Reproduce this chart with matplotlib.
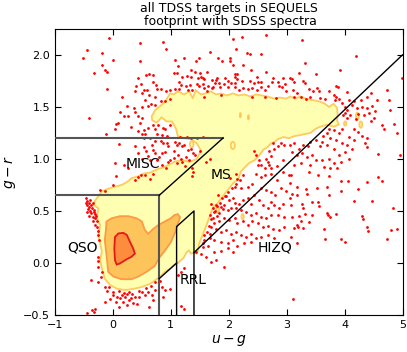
import numpy as np
import matplotlib
matplotlib.use('Agg')
import matplotlib.pyplot as plt
from matplotlib.patches import Polygon, Ellipse

# ── scatter points (u-g, g-r) ─────────────────
pts_upper_left = [
    (-0.06, 2.16), (-0.44, 2.05), (-0.19, 2.02), (-0.52, 1.97), (0.01, 1.95), (0.47, 1.94),
    (0.87, 2.12), (0.46, 2.11), (0.91, 2.06), (-0.18, 1.90), (-0.32, 1.83), (-0.13, 1.85),
    (-0.11, 1.84), (-0.10, 1.67), (0.15, 1.60), (-0.41, 1.39), (-0.12, 1.24), (0.24, 1.51),
    (0.36, 1.49), (0.05, 1.34), (0.09, 1.35), (0.04, 1.29), (0.19, 1.41), (0.26, 1.41),
    (0.13, 1.45), (0.32, 1.31), (0.38, 1.45), (0.50, 1.50), (0.43, 1.78), (0.40, 1.70),
    (0.39, 1.65), (0.49, 1.72), (0.53, 1.66), (0.59, 1.66), (0.57, 1.81), (0.62, 1.82),
    (0.69, 1.81), (0.70, 1.74), (0.51, 1.63), (0.55, 1.57), (0.63, 1.61), (0.66, 1.53),
    (0.61, 1.51), (0.73, 1.60), (0.75, 1.71), (0.77, 1.67), (0.83, 1.67), (0.91, 1.65),
    (0.73, 1.52), (0.83, 1.56), (0.90, 1.56), (0.99, 1.66), (0.99, 1.58), (0.44, 1.41),
    (0.47, 1.35), (0.51, 1.39), (0.43, 1.27), (0.53, 1.28), (0.50, 1.24), (0.56, 1.24),
    (0.61, 1.30), (0.70, 1.33), (0.73, 1.29), (0.78, 1.33), (0.87, 1.30), (0.90, 1.29),
    (0.99, 1.33), (0.76, 1.24), (0.84, 1.23), (0.93, 1.22), (0.54, 1.20), (0.64, 1.20),
    (0.73, 1.17), (0.83, 1.17), (0.87, 1.15), (0.93, 1.15), (0.10, 1.14), (0.38, 1.12),
    (0.04, 0.96), (0.53, 1.11), (0.58, 1.08), (0.44, 1.06), (0.50, 1.00), (0.70, 1.09),
    (0.61, 1.03), (0.64, 0.99), (0.76, 0.99), (0.80, 1.02), (0.84, 1.06), (0.90, 1.07),
    (0.95, 1.12), (0.73, 1.06), (0.67, 1.13), (0.20, 0.94), (0.26, 0.91), (0.84, 0.94),
    (0.92, 0.91), (0.96, 0.97), (0.99, 0.99),
]

pts_upper_mid = [
    (2.07, 2.15), (2.23, 2.17), (2.64, 2.19), (2.12, 2.06), (1.68, 2.03), (2.32, 2.02),
    (2.36, 2.01), (2.56, 2.01), (2.02, 1.97), (2.03, 1.94), (1.81, 1.97), (1.89, 1.94),
    (1.44, 1.94), (1.48, 1.97), (1.23, 1.97), (1.07, 1.95), (1.13, 1.89), (2.07, 1.90),
    (2.24, 1.90), (1.05, 1.83), (1.10, 1.83), (1.35, 1.85), (1.42, 1.84), (1.50, 1.83),
    (1.62, 1.84), (1.52, 1.79), (1.56, 1.78), (1.57, 1.77), (1.47, 1.78), (1.34, 1.79),
    (1.28, 1.80), (1.20, 1.79), (1.14, 1.74), (1.18, 1.71), (1.79, 1.78), (1.78, 1.76),
    (1.71, 1.76), (1.93, 1.78), (2.10, 1.82), (2.15, 1.82), (2.11, 1.79), (2.15, 1.77),
    (2.39, 1.85), (2.49, 1.79), (2.64, 1.84), (2.51, 1.74), (2.56, 1.74), (2.43, 1.73),
    (2.36, 1.75), (2.23, 1.75), (2.11, 1.73), (2.04, 1.73), (1.99, 1.75), (1.92, 1.72),
    (1.84, 1.73), (1.76, 1.73), (1.73, 1.69), (1.64, 1.70), (1.56, 1.72), (1.49, 1.70),
    (1.45, 1.72), (1.33, 1.71), (1.27, 1.70), (1.15, 1.67), (1.07, 1.67), (1.30, 1.66),
    (1.37, 1.66), (1.57, 1.68), (1.63, 1.65), (1.71, 1.68), (1.85, 1.69), (1.98, 1.69),
    (2.11, 1.69), (2.18, 1.66), (2.25, 1.68), (2.33, 1.67), (2.41, 1.68), (2.49, 1.66),
    (2.55, 1.69), (2.62, 1.66), (2.67, 1.70), (2.75, 1.74), (2.76, 1.78), (2.85, 1.74),
    (2.87, 1.70), (2.92, 1.69), (2.97, 1.72), (2.94, 1.78), (2.99, 1.65), (1.57, 1.60),
    (1.87, 1.61), (2.41, 1.60), (2.62, 1.60), (2.82, 1.59),
    (1.08, 1.165), (1.11, 1.13), (1.15, 1.15), (1.19, 1.12), (1.23, 1.13), (1.29, 1.09),
    (1.35, 1.10), (1.38, 1.06), (1.05, 1.08), (1.06, 1.01), (1.12, 1.04), (1.18, 1.00),
    (1.26, 1.02), (1.32, 0.99), (1.41, 1.04), (1.51, 1.08), (1.35, 1.20), (1.46, 1.20),
    (1.55, 1.21), (1.16, 1.21), (1.28, 1.21), (1.24, 0.93), (1.37, 0.91), (1.61, 0.97),
    (1.67, 1.00), (1.20, 0.97), (1.11, 0.96),
    (2.44, 1.08), (2.47, 1.04), (2.53, 0.99), (2.56, 0.94), (2.64, 1.00), (2.67, 0.97),
    (2.70, 0.94), (2.73, 1.03), (2.76, 1.15), (2.79, 1.10), (2.85, 1.12), (2.90, 1.15),
    (2.96, 1.13), (2.70, 1.08), (2.50, 0.94), (2.62, 0.91), (2.73, 0.91), (2.83, 0.93),
    (2.93, 0.99),
]

pts_upper_right = [
    (3.27, 2.14), (4.20, 1.99), (3.31, 1.92), (3.51, 1.82), (3.92, 1.85), (3.21, 1.83),
    (3.05, 1.78), (3.09, 1.77), (3.12, 1.74), (3.29, 1.75), (3.31, 1.73), (3.86, 1.70),
    (3.89, 1.69), (3.39, 1.67), (3.45, 1.65), (3.52, 1.68), (3.55, 1.65), (3.11, 1.66),
    (3.18, 1.63), (3.13, 1.60), (3.24, 1.60), (3.33, 1.58), (3.41, 1.60), (3.58, 1.59),
    (3.66, 1.58), (3.73, 1.65), (3.81, 1.61), (3.85, 1.60), (3.83, 1.57), (3.90, 1.58),
    (4.04, 1.64), (3.96, 1.54), (4.07, 1.57), (4.16, 1.56), (4.28, 1.57), (4.38, 1.60),
    (4.45, 1.63), (4.56, 1.57), (4.73, 1.66), (4.76, 1.57), (4.99, 1.78), (4.00, 1.50),
    (4.04, 1.47), (4.13, 1.52), (4.22, 1.49), (4.30, 1.50), (4.39, 1.49), (4.47, 1.51),
    (4.53, 1.46), (4.42, 1.44), (4.33, 1.42), (4.24, 1.43), (4.10, 1.42), (4.01, 1.44),
    (3.97, 1.42), (4.05, 1.39), (4.19, 1.38), (4.45, 1.36), (4.51, 1.39), (4.64, 1.33),
    (4.68, 1.29), (4.79, 1.47), (4.85, 1.34), (4.91, 1.25), (4.96, 1.04), (4.57, 1.05),
    (4.16, 1.29), (4.24, 1.26), (4.30, 1.22), (4.39, 1.20), (4.36, 1.15), (4.39, 1.11),
    (4.16, 1.18), (4.07, 1.21), (3.96, 1.29), (3.90, 1.25), (3.81, 1.28), (3.73, 1.29),
    (3.70, 1.25), (3.63, 1.22), (3.75, 1.20), (3.86, 1.18), (3.96, 1.15), (4.04, 1.13),
    (4.13, 1.10), (4.01, 1.07), (3.90, 1.04), (3.81, 1.10), (3.70, 1.13), (3.61, 1.16),
    (3.57, 1.12), (3.50, 1.18), (3.41, 1.16), (3.36, 1.12), (3.28, 1.13), (3.21, 1.10),
    (3.12, 1.15), (3.06, 1.13), (3.09, 1.07), (3.18, 1.04), (3.27, 1.06), (3.35, 1.02),
    (3.44, 1.04), (3.51, 0.99), (3.61, 0.99), (3.73, 1.00), (3.81, 0.96), (3.93, 0.97),
    (4.07, 1.00), (3.24, 0.96), (3.12, 0.94), (3.41, 0.94), (3.64, 0.92), (3.87, 0.91),
    (3.74, 0.91),
]

pts_qso = [
    (-0.47, 0.62), (-0.44, 0.60), (-0.41, 0.58), (-0.45, 0.56), (-0.42, 0.54), (-0.38, 0.56),
    (-0.36, 0.53), (-0.32, 0.51), (-0.40, 0.50), (-0.44, 0.49), (-0.37, 0.48), (-0.31, 0.47),
    (-0.34, 0.44), (-0.30, 0.43), (-0.27, 0.40), (-0.28, 0.35), (-0.26, 0.31), (-0.25, 0.27),
    (-0.24, 0.22), (-0.26, 0.06), (-0.26, 0.02), (-0.25, -0.04), (-0.38, -0.16), (-0.26, -0.18),
    (-0.21, -0.13), (-0.19, -0.09), (-0.22, 0.70), (-0.14, 0.69), (0.01, 0.75), (0.05, 0.84),
    (0.38, 0.80), (0.44, 0.83), (0.49, 0.85), (0.55, 0.85), (0.64, 0.81), (0.70, 0.86),
    (-0.14, -0.23), (-0.06, -0.23), (0.01, -0.28), (0.07, -0.33), (0.12, -0.34), (0.15, -0.31),
    (0.21, -0.33), (0.24, -0.30), (0.27, -0.36), (0.32, -0.34), (0.38, -0.33), (0.18, -0.37),
    (-0.14, -0.37), (-0.31, -0.44), (-0.36, -0.45), (0.41, -0.39), (0.50, -0.28), (0.55, -0.31),
    (0.61, -0.28), (0.67, -0.31), (0.70, -0.36), (0.73, -0.26), (0.63, -0.42), (0.84, -0.23),
    (0.87, -0.33), (0.90, -0.26), (0.99, -0.25), (0.73, -0.18), (0.81, -0.17), (-0.44, -0.48),
    (-0.33, -0.47),
    (-0.46, 0.58), (-0.43, 0.52), (-0.39, 0.61), (-0.35, 0.58), (-0.33, 0.49), (-0.29, 0.45),
    (-0.42, 0.45), (-0.35, 0.40), (-0.31, 0.37), (-0.10, -0.27), (0.00, -0.31), (0.10, -0.27),
    (0.20, -0.29), (0.28, -0.28), (0.33, -0.30), (0.45, -0.27), (0.58, -0.24), (0.65, -0.22),
    (0.05, -0.37), (0.25, -0.40), (0.10, -0.42), (-0.05, -0.35), (0.45, -0.33), (0.35, -0.38),
]

pts_hizq = [
    (1.39, 0.87), (1.37, 0.84), (2.13, 0.86), (2.03, 0.82), (2.15, 0.81), (2.47, 0.86),
    (2.55, 0.83), (2.62, 0.85), (2.73, 0.86), (2.93, 0.87), (2.83, 0.80), (2.10, 0.73),
    (2.21, 0.72), (2.34, 0.73), (2.41, 0.76), (2.55, 0.72), (2.64, 0.70), (2.73, 0.68),
    (2.80, 0.65), (2.90, 0.72), (2.99, 0.69), (1.81, 0.65), (1.88, 0.62), (1.95, 0.64),
    (2.01, 0.61), (2.07, 0.62), (2.10, 0.58), (2.18, 0.57), (2.24, 0.61), (2.33, 0.62),
    (2.38, 0.57), (2.44, 0.65), (2.53, 0.61), (2.60, 0.56), (2.67, 0.53), (2.73, 0.59),
    (2.79, 0.56), (2.87, 0.53), (2.93, 0.57), (1.69, 0.57), (1.72, 0.53), (1.78, 0.56),
    (1.75, 0.49), (1.84, 0.48), (1.87, 0.54), (1.92, 0.56), (1.98, 0.51), (2.04, 0.53),
    (2.13, 0.53), (2.21, 0.51), (2.30, 0.49), (2.39, 0.46), (2.47, 0.48), (2.56, 0.44),
    (2.64, 0.43), (2.73, 0.46), (2.85, 0.46), (2.96, 0.44), (1.67, 0.46), (1.72, 0.43),
    (1.84, 0.40), (1.92, 0.43), (2.01, 0.41), (2.10, 0.43), (2.15, 0.38), (2.24, 0.40),
    (2.33, 0.37), (2.41, 0.40), (2.50, 0.38), (2.59, 0.35), (2.67, 0.36), (2.76, 0.33),
    (2.87, 0.32), (2.96, 0.35), (1.69, 0.35), (1.78, 0.33), (1.87, 0.30), (1.95, 0.32),
    (2.04, 0.28), (2.13, 0.30), (2.21, 0.27), (2.30, 0.25), (2.39, 0.28), (2.47, 0.24),
    (2.56, 0.25), (2.67, 0.27), (2.79, 0.24), (1.58, 0.27), (1.67, 0.24), (1.75, 0.22),
    (1.87, 0.20), (1.98, 0.19), (2.07, 0.22), (2.15, 0.16), (2.27, 0.19), (2.39, 0.20),
    (1.55, 0.19), (1.64, 0.16), (1.75, 0.11), (1.87, 0.12), (1.98, 0.14), (2.07, 0.11),
    (1.44, 0.11), (1.52, 0.09), (1.61, 0.06), (1.69, 0.01), (1.78, 0.03), (1.92, -0.04),
    (1.18, -0.09), (1.23, -0.05), (1.12, -0.12), (1.18, -0.41), (1.23, -0.44),
    (1.76, 0.50), (1.80, 0.55), (1.85, 0.58), (1.93, 0.64), (1.98, 0.68), (2.05, 0.72),
    (2.12, 0.76), (2.20, 0.80), (2.25, 0.85), (1.70, 0.42), (1.66, 0.36), (1.62, 0.30),
    (1.58, 0.22), (1.55, 0.15), (1.68, 0.28), (1.74, 0.38), (1.80, 0.45), (1.90, 0.52),
    (3.04, 0.85), (3.08, 0.85), (3.38, 0.87), (3.54, 0.85), (3.73, 0.84), (3.94, 0.79),
    (4.06, 0.79), (4.39, 0.78), (4.57, 0.83), (4.65, 0.79), (4.24, 0.71), (3.93, 0.69),
    (3.69, 0.73), (3.52, 0.72), (3.33, 0.71), (3.17, 0.73), (3.06, 0.77), (3.09, 0.66),
    (3.18, 0.65), (3.27, 0.57), (3.28, 0.53), (3.35, 0.66), (3.44, 0.59), (3.54, 0.59),
    (3.55, 0.55), (3.73, 0.65), (4.16, 0.60), (4.47, 0.60), (4.83, 0.53), (3.05, 0.62),
    (3.08, 0.56), (3.32, 0.47), (3.21, 0.45), (3.10, 0.44), (3.44, 0.46), (3.39, 0.39),
    (3.24, 0.40), (3.17, 0.37), (3.20, 0.35), (3.12, 0.34), (3.28, 0.34), (3.65, 0.33),
    (3.70, 0.48), (3.71, 0.46), (3.74, 0.44), (3.86, 0.47), (4.30, 0.45), (4.32, 0.42),
    (4.38, 0.35), (4.40, 0.31), (4.80, 0.32), (4.91, 0.33), (4.73, 0.23), (3.94, 0.23),
    (4.01, 0.20), (3.66, 0.23), (3.17, 0.19), (3.08, 0.25), (3.11, -0.35),
]

# ── density contours (u-g, g-r outlines), lowest level first ────────────────
lvl1_ug = [-0.34, -0.31, -0.25, -0.19, -0.10, 0.01, 0.15, 0.25, 0.32, 0.42, 0.53, 0.65, 0.76,
           0.88, 0.99, 1.07, 1.20, 1.32, 1.45, 1.52, 1.45, 1.35, 1.23, 1.12, 1.09, 1.02, 0.93,
           0.84, 0.76, 0.68, 0.67, 0.73, 0.80, 0.90, 0.99, 1.05, 1.12, 1.23, 1.32, 1.38, 1.43,
           1.52, 1.60, 1.69, 1.78, 1.87, 1.97, 2.07, 2.17, 2.27, 2.37, 2.47, 2.57, 2.67, 2.78,
           2.88, 2.99, 3.06, 3.15, 3.24, 3.33, 3.41, 3.50, 3.58, 3.66, 3.73, 3.81, 3.87, 3.88,
           3.87, 3.90, 3.81, 3.70, 3.58, 3.50, 3.41, 3.32, 3.24, 3.14, 3.04, 2.94, 2.85, 2.78,
           2.73, 2.66, 2.60, 2.52, 2.45, 2.35, 2.28, 2.21, 2.16, 2.08, 2.01, 1.95, 1.87, 1.80,
           1.72, 1.68, 1.64, 1.60, 1.55, 1.52, 1.49, 1.47, 1.44, 1.40, 1.35, 1.31, 1.27, 1.22,
           1.18, 1.12, 1.06, 1.00, 0.90, 0.81, 0.73, 0.64, 0.50, 0.38, 0.21, 0.065, -0.05, -0.14,
           -0.19, -0.22, -0.19, -0.22, -0.25, -0.22, -0.28, -0.25]
lvl1_gr = [0.56, 0.60, 0.64, 0.69, 0.71, 0.73, 0.75, 0.78, 0.815, 0.83, 0.86, 0.87, 0.90,
           0.92, 0.95, 0.975, 0.99, 0.97, 1.00, 1.08, 1.15, 1.19, 1.20, 1.22, 1.29, 1.36, 1.36,
           1.40, 1.35, 1.37, 1.41, 1.47, 1.50, 1.55, 1.63, 1.62, 1.65, 1.62, 1.65, 1.58, 1.66,
           1.62, 1.63, 1.65, 1.62, 1.63, 1.61, 1.63, 1.61, 1.62, 1.60, 1.62, 1.61, 1.60, 1.58,
           1.59, 1.58, 1.60, 1.58, 1.60, 1.58, 1.57, 1.56, 1.55, 1.53, 1.50, 1.53, 1.49, 1.42,
           1.37, 1.33, 1.31, 1.33, 1.31, 1.29, 1.25, 1.24, 1.23, 1.22, 1.20, 1.21, 1.19, 1.16,
           1.15, 1.11, 1.09, 1.03, 0.99, 0.96, 0.92, 0.88, 0.80, 0.77, 0.72, 0.68, 0.62, 0.57,
           0.525, 0.46, 0.40, 0.34, 0.27, 0.23, 0.19, 0.12, 0.09, 0.10, 0.09, 0.12, 0.10, 0.05,
           0.03, 0.0, -0.02, -0.05, -0.085, -0.134, -0.166, -0.20, -0.23, -0.246, -0.26, -0.246,
           -0.21, -0.15, -0.05, 0.03, 0.11, 0.19, 0.27, 0.365, 0.43, 0.525]

lvl2_ug = [-0.14, -0.12, -0.11, -0.02, 0.12, 0.27, 0.41, 0.50, 0.55, 0.61, 0.70, 0.785, 0.90,
           1.00, 1.06, 1.12, 1.16, 1.13, 1.08, 1.00, 0.90, 0.80, 0.72, 0.58, 0.44, 0.32, 0.15,
           0.01, -0.08, -0.12]
lvl2_gr = [0.22, 0.32, 0.40, 0.43, 0.45, 0.45, 0.43, 0.40, 0.32, 0.28, 0.33, 0.365, 0.40,
           0.43, 0.46, 0.47, 0.44, 0.39, 0.30, 0.20, 0.12, 0.05, -0.03, -0.085, -0.13, -0.156,
           -0.156, -0.13, -0.085, 0.127]

lvl3_ug = [0.036, 0.094, 0.18, 0.24, 0.295, 0.35, 0.38, 0.32, 0.24, 0.12, 0.065, 0.036, 0.025]
lvl3_gr = [0.25, 0.284, 0.29, 0.27, 0.204, 0.14, 0.09, 0.059, 0.037, -0.005, -0.015, 0.027, 0.14]

# small separate islands of the contours: centre u-g, centre g-r, width, height
isl1_ug = [4.22, 4.28, 4.01, 1.81, 2.24, 1.36]
isl1_gr = [1.41, 1.33, 1.34, 0.51, 0.445, 1.14]
isl1_w = [0.05, 0.05, 0.04, 0.05, 0.04, 0.06]
isl1_h = [0.07, 0.06, 0.04, 0.06, 0.05, 0.06]
isl2_ug = [2.20, 2.34]
isl2_gr = [1.42, 1.40]
ring_ug = [2.07]
ring_gr = [1.13]

# ── selection boxes ────────────────────────────────────────────────────────
box_gray = [([-1, 1.9], [1.2, 1.2]), ([-1, 0.8], [0.65, 0.65]), ([0.8, 0.8], [0.65, -0.5])]
box_black = [([0.8, 1.9], [0.65, 1.2]), ([0.8, 1.1], [-0.15, 0.0]),
             ([1.1, 1.1, 1.4, 1.4], [-0.5, 0.35, 0.5, -0.5]), ([1.4, 5.0], [0.1, 2.0])]

labels = ['QSO', 'MISC', 'MS', 'RRL', 'HIZQ']
label_ug = [-0.53, 0.51, 1.87, 1.39, 2.80]
label_gr = [0.15, 0.95, 0.85, -0.16, 0.15]

fills = ['#ffffb2', '#fec45c', '#fd8d3c']
edges = ['#fecb5c', '#fd9a47', '#e31a1c']

fig = plt.figure(figsize=(4.07, 3.52), dpi=100)
ax = fig.add_axes([0.135, 0.105, 0.854, 0.813])

for (ug, gr), fc, ec in zip([(lvl1_ug, lvl1_gr), (lvl2_ug, lvl2_gr), (lvl3_ug, lvl3_gr)], fills, edges):
    ax.add_patch(Polygon(np.column_stack([ug, gr]), closed=True, fc=fc, ec=ec, lw=1.3, zorder=1))

for x, y, w, h in zip(isl1_ug, isl1_gr, isl1_w, isl1_h):
    ax.add_patch(Ellipse((x, y), w, h, fc=fills[0], ec=edges[0], lw=1.3, zorder=1))
for x, y in zip(isl2_ug, isl2_gr):
    ax.add_patch(Ellipse((x, y), 0.035, 0.05, fc=fills[1], ec=fills[1], lw=0.5, zorder=1))
for x, y in zip(ring_ug, ring_gr):
    ax.add_patch(Ellipse((x, y), 0.07, 0.07, fill=False, ec=edges[0], lw=1.3, zorder=1))

pts = np.array(pts_upper_left + pts_upper_mid + pts_upper_right + pts_qso + pts_hizq)
ax.scatter(pts[:, 0], pts[:, 1], s=4, c='#ff0000', marker='o', linewidths=0, zorder=2)

for xs, ys in box_gray:
    ax.plot(xs, ys, color='#555555', lw=1.5, zorder=3)
for xs, ys in box_black:
    ax.plot(xs, ys, color='k', lw=1.0, zorder=3)

for t, x, y in zip(labels, label_ug, label_gr):
    ax.text(x, y, t, fontsize=10, ha='center', va='center', zorder=4)

ax.set_xlim(-1, 5)
ax.set_ylim(-0.5, 2.25)
ax.set_xticks(range(-1, 6))
ax.set_yticks([-0.5, 0.0, 0.5, 1.0, 1.5, 2.0])
ax.tick_params(direction='in', top=True, right=True, labelsize=8, length=4)
ax.set_xlabel('$u-g$', fontsize=10, labelpad=2)
ax.set_ylabel('$g-r$', fontsize=10, labelpad=4)
ax.set_title('all TDSS targets in SEQUELS\n footprint with SDSS spectra', fontsize=9, pad=3,
             linespacing=1.0)

fig.savefig('out.png', dpi=100)
